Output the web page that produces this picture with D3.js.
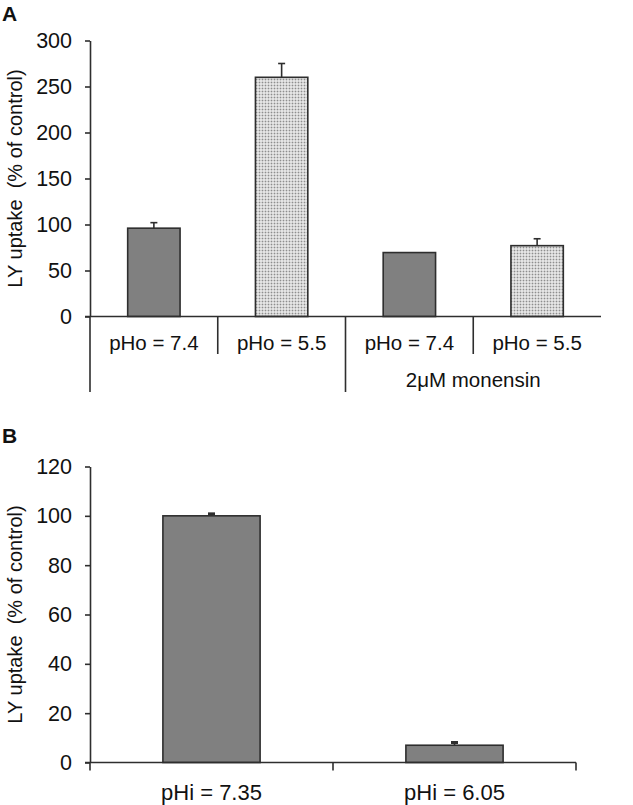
<!DOCTYPE html>
<html><head><meta charset="utf-8">
<script src="https://cdn.jsdelivr.net/npm/d3@7"></script>
<style>
body{margin:0;background:#fff}
text{font-family:"Liberation Sans",Arial,sans-serif;fill:#111}
</style>
</head><body><svg id="c" width="633" height="805"></svg>
<script>
// ---------- data ----------
const categoriesA = ["pHo = 7.4", "pHo = 5.5", "pHo = 7.4", "pHo = 5.5"];
const valuesA = [96, 260, 69.5, 77];
const errorsA = [6, 15, 0, 7.5];
const fillsA = ["solid", "dotted", "solid", "dotted"];
const groupsA = [{label: "", from: 0, to: 1}, {label: "2μM monensin", from: 2, to: 3}];
const ticksA = [0, 50, 100, 150, 200, 250, 300];

const categoriesB = ["pHi = 7.35", "pHi = 6.05"];
const valuesB = [100, 7];
const errorsB = [0.8, 1.1];
const ticksB = [0, 20, 40, 60, 80, 100, 120];

const yLabel = "LY uptake\u00a0\u00a0(% of control)";

// ---------- drawing ----------
const svg = d3.select("#c");
const ink = "#2e2e2e";
const defs = svg.append("defs");
const pat = defs.append("pattern").attr("id", "dots").attr("patternUnits", "userSpaceOnUse")
  .attr("width", 3).attr("height", 3);
pat.append("rect").attr("width", 3).attr("height", 3).attr("fill", "#f4f4f4");
pat.append("rect").attr("x", 0.6).attr("y", 0.6).attr("width", 1.8).attr("height", 1.8).attr("fill", "#8e8e8e");

function panel(opts) {
  const {cats, vals, errs, fills, ticks, x0, x1, yBottom, yTop, yMax, barRatio, letter, letterY, labelSize, labelY, capW, capStroke} = opts;
  const g = svg.append("g");
  const x = d3.scaleBand().domain(d3.range(cats.length)).range([x0, x1]).padding(0);
  const y = d3.scaleLinear().domain([0, yMax]).range([yBottom, yTop]);
  const bw = x.bandwidth() * barRatio;

  // bars
  g.selectAll("rect.bar").data(vals).join("rect")
    .attr("x", (d, i) => x(i) + (x.bandwidth() - bw) / 2)
    .attr("y", d => y(d))
    .attr("width", bw)
    .attr("height", d => y(0) - y(d))
    .attr("fill", (d, i) => fills[i] === "dotted" ? "url(#dots)" : "#808080")
    .attr("stroke", ink).attr("stroke-width", 1.6);

  // error bars
  vals.forEach((v, i) => {
    if (!errs[i]) return;
    const cx = x(i) + x.bandwidth() / 2;
    g.append("line").attr("x1", cx).attr("x2", cx).attr("y1", y(v)).attr("y2", y(v + errs[i]))
      .attr("stroke", ink).attr("stroke-width", 1.6);
    g.append("line").attr("x1", cx - capW / 2).attr("x2", cx + capW / 2).attr("y1", y(v + errs[i])).attr("y2", y(v + errs[i]))
      .attr("stroke", ink).attr("stroke-width", capStroke);
  });

  // y axis
  const ya = g.append("g").attr("transform", `translate(${x0},0)`)
    .call(d3.axisLeft(y).tickValues(ticks).tickSize(5).tickPadding(13).tickSizeOuter(0));
  ya.select(".domain").attr("stroke", ink).attr("stroke-width", 1.6);
  ya.selectAll(".tick line").attr("stroke", ink).attr("stroke-width", 1.6);
  ya.selectAll(".tick text").attr("font-size", 21.5).attr("fill", "#111")
    .attr("font-family", '"Liberation Sans",Arial,sans-serif');

  // x baseline
  g.append("line").attr("x1", x0 - 5).attr("x2", x1).attr("y1", y(0)).attr("y2", y(0))
    .attr("stroke", ink).attr("stroke-width", 1.6);

  // category labels
  g.selectAll("text.cat").data(cats).join("text")
    .attr("x", (d, i) => x(i) + x.bandwidth() / 2).attr("y", labelY)
    .attr("text-anchor", "middle").attr("font-size", labelSize).text(d => d);

  // y label
  g.append("text").attr("transform", `translate(22,${(yBottom + yTop) / 2}) rotate(-90)`)
    .attr("text-anchor", "middle").attr("font-size", 20).text(yLabel);

  // panel letter
  g.append("text").attr("x", 2).attr("y", letterY).attr("font-size", 21).attr("font-weight", "bold").text(letter);
  return {g, x, y};
}

// Panel A
const A = panel({cats: categoriesA, vals: valuesA, errs: errorsA, fills: fillsA, ticks: ticksA,
  x0: 90, x1: 601, yBottom: 316.5, yTop: 40.5, yMax: 300, barRatio: 0.41, letter: "A", letterY: 21,
  labelSize: 20.5, labelY: 350, capW: 7, capStroke: 1.6});
// separators for categories and groups
d3.range(categoriesA.length).forEach(i => {
  const isGroupStart = groupsA.some(gr => gr.from === i);
  A.g.append("line").attr("x1", A.x(i)).attr("x2", A.x(i)).attr("y1", A.y(0)).attr("y2", isGroupStart ? 392 : 354)
    .attr("stroke", ink).attr("stroke-width", 1.6);
});
groupsA.forEach(gr => {
  if (!gr.label) return;
  const cx = (A.x(gr.from) + A.x(gr.to) + A.x.bandwidth()) / 2;
  A.g.append("text").attr("x", cx).attr("y", 387).attr("text-anchor", "middle").attr("font-size", 20.5).text(gr.label);
});

// Panel B
const B = panel({cats: categoriesB, vals: valuesB, errs: errorsB, fills: ["solid", "solid"], ticks: ticksB,
  x0: 90, x1: 576, yBottom: 762.5, yTop: 466.5, yMax: 120, barRatio: 0.4, letter: "B", letterY: 443,
  labelSize: 22, labelY: 800, capW: 7, capStroke: 3});
[0, 1, 2].forEach(i => {
  const xx = i < 2 ? B.x(i) : B.x(1) + B.x.bandwidth();
  B.g.append("line").attr("x1", xx).attr("x2", xx).attr("y1", B.y(0)).attr("y2", B.y(0) + 8)
    .attr("stroke", ink).attr("stroke-width", 1.6);
});
</script>
</body></html>
